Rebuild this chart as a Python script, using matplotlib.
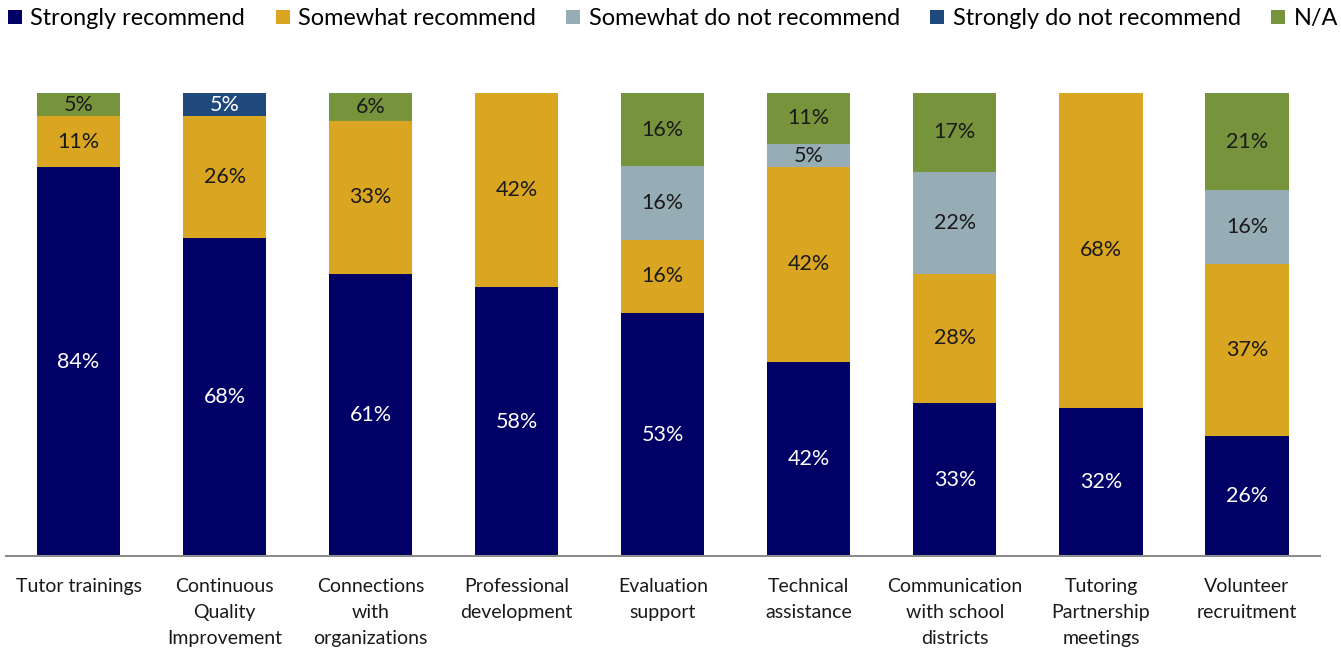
import matplotlib
matplotlib.use("Agg")
import matplotlib.pyplot as plt
import numpy as np

plt.rcParams['font.family'] = ['Lato', 'DejaVu Sans']

categories = [
    "Tutor trainings",
    "Continuous\nQuality\nImprovement",
    "Connections\nwith\norganizations",
    "Professional\ndevelopment",
    "Evaluation\nsupport",
    "Technical\nassistance",
    "Communication\nwith school\ndistricts",
    "Tutoring\nPartnership\nmeetings",
    "Volunteer\nrecruitment",
]

strongly_recommend = [84, 68, 61, 58, 53, 42, 33, 32, 26]
somewhat_recommend = [11, 26, 33, 42, 16, 42, 28, 68, 37]
somewhat_not = [0, 0, 0, 0, 16, 5, 22, 0, 16]
strongly_not = [0, 5, 0, 0, 0, 0, 0, 0, 0]
not_applicable = [5, 0, 6, 0, 16, 11, 17, 0, 21]

series = [
    ("Strongly recommend", strongly_recommend, "#000066", "white"),
    ("Somewhat recommend", somewhat_recommend, "#DAA520", "#1a1a1a"),
    ("Somewhat do not recommend", somewhat_not, "#97ADB6", "#1a1a1a"),
    ("Strongly do not recommend", strongly_not, "#1F497D", "white"),
    ("N/A", not_applicable, "#77933C", "#1a1a1a"),
]

data = np.array([s[1] for s in series], dtype=float)
totals = data.sum(axis=0)
shares = data / totals

fig = plt.figure(figsize=(13.41, 6.5), dpi=100)
ax = fig.add_axes([5.5 / 1341, 94 / 650, 1314.5 / 1341, 463 / 650])

x = np.arange(len(categories))
bottom = np.zeros(len(categories))
handles = []
for (name, vals, color, tcolor), share in zip(series, shares):
    bars = ax.bar(x, share, width=0.57, bottom=bottom, color=color,
                  edgecolor="none", label=name)
    handles.append(bars)
    for xi, v, b, s in zip(x, vals, bottom, share):
        if v > 0:
            ax.text(xi, b + s / 2, f"{v}%", ha="center", va="center",
                    fontsize=15.5, color=tcolor)
    bottom += share

ax.set_xlim(-0.5, len(categories) - 0.5)
ax.set_ylim(0, 1)
ax.set_yticks([])
ax.set_xticks(x)
ax.set_xticklabels(categories, fontsize=14, color="#1a1a1a", linespacing=1.62)
ax.tick_params(axis="x", length=0, pad=16)
for side in ("left", "right", "top"):
    ax.spines[side].set_visible(False)
ax.spines["bottom"].set_color("#8c8c8c")
ax.spines["bottom"].set_linewidth(1.5)

fig.legend(handles=handles, labels=[s[0] for s in series], loc="upper center",
           bbox_to_anchor=(673 / 1341, 1.009), ncol=5, frameon=False, fontsize=16.9,
           handlelength=0.6, handleheight=0.6, handletextpad=0.35,
           columnspacing=1.3, borderaxespad=0.2)

fig.savefig("out.png", dpi=100)
